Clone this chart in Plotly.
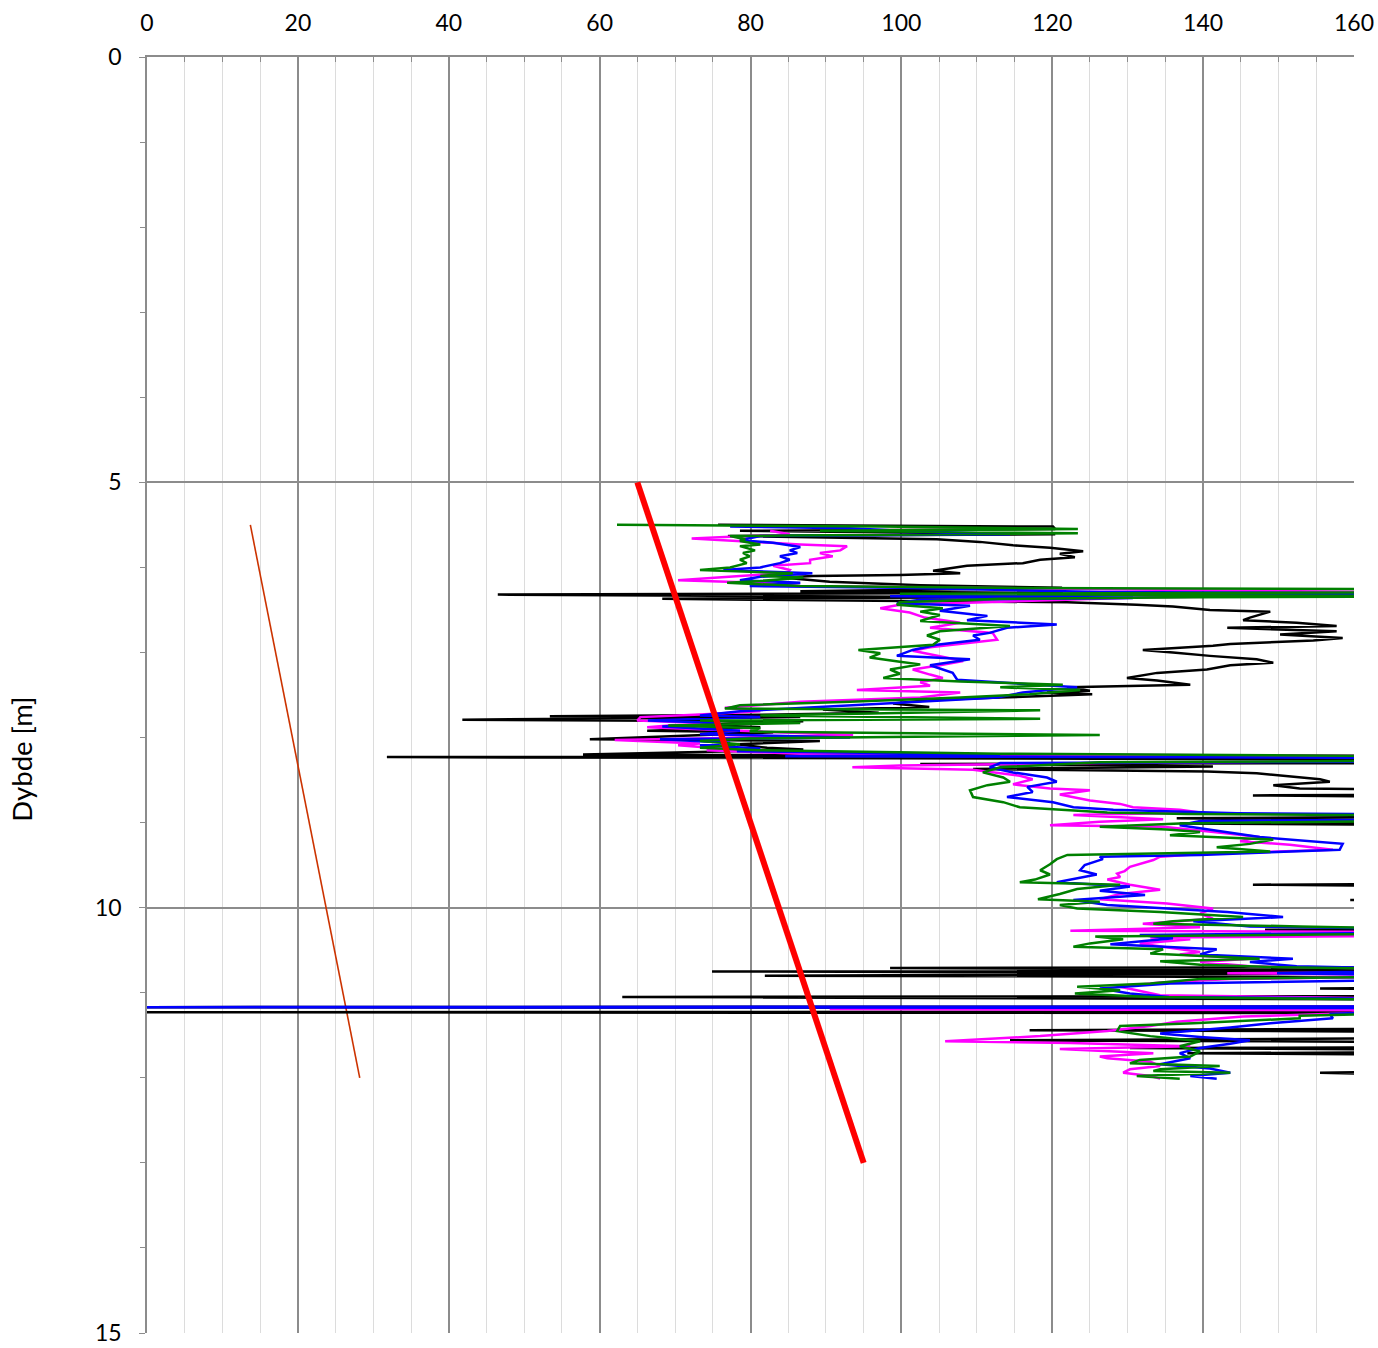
import plotly.graph_objects as go

# Reference lines (value, depth)
red_line_value = [65, 95]
red_line_depth = [5.0, 13.0]
orange_line_value = [13.7, 28.2]
orange_line_depth = [5.5, 12.0]

# Profiles: (depth [m], value); values > 160 run off the right edge
black_profile = [(5.50,75.7),(5.52,120.1),(5.55,120.4),(5.57,78.6),(5.61,120.4),(5.63,77.0),(5.67,104.7),(5.70,110.4),(5.74,114.8),(5.77,119.7),(5.81,124.1),(5.84,121.0),(5.88,123.0),(5.91,118.4),(5.95,116.1),(5.98,108.7),(6.02,105.8),(6.04,104.2),(6.07,107.8),(6.09,99.8),(6.10,88.3),(6.12,84.2),(6.17,90.5),(6.21,102.5),(6.24,121.3),(6.28,86.6),(6.30,121.4),(6.32,46.5),(6.35,113.1),(6.37,68.3),(6.38,80.2),(6.41,122.0),(6.44,131.2),(6.46,136.0),(6.50,140.9),(6.52,148.9),(6.59,146.2),(6.62,145.3),(6.65,152.4),(6.69,157.7),(6.71,143.2),(6.75,157.7),(6.79,150.2),(6.83,158.5),(6.86,154.6),(6.90,143.6),(6.92,141.3),(6.97,132.0),(7.00,136.0),(7.04,140.9),(7.08,147.1),(7.12,149.3),(7.15,143.6),(7.20,140.5),(7.24,133.9),(7.30,129.9),(7.33,133.9),(7.38,138.3),(7.41,122.0),(7.45,125.0),(7.47,119.3),(7.49,125.3),(7.53,113.1),(7.56,103.8),(7.60,98.9),(7.64,103.7),(7.67,89.6),(7.71,97.0),(7.73,83.9),(7.75,53.4),(7.76,86.6),(7.79,41.8),(7.81,87.0),(7.85,73.3),(7.88,81.3),(7.92,66.3),(7.94,83.0),(7.97,73.3),(8.02,58.7),(8.04,89.2),(8.08,78.2),(8.12,82.2),(8.14,87.0),(8.17,73.3),(8.20,57.8),(8.22,175),(8.23,31.8),(8.26,175),(8.30,175),(8.31,102.5),(8.34,141.3),(8.37,109.5),(8.40,140.5),(8.42,147.1),(8.49,155.5),(8.52,156.8),(8.56,149.3),(8.60,152.8),(8.62,175),(8.67,175),(8.68,146.6),(8.70,175),(8.93,175),(8.95,136.5),(8.98,175),(9.01,136.9),(9.03,175),(9.72,175),(9.73,146.6),(9.75,175),(9.90,175),(9.91,159.5),(9.93,175),(10.25,175),(10.26,148.2),(10.28,175),(10.70,175),(10.71,98.5),(10.74,175),(10.75,74.9),(10.77,175),(10.80,81.9),(10.82,175),(10.94,175),(10.95,155.5),(10.97,175),(11.04,175),(11.05,63.0),(11.08,175),(11.16,175),(11.17,0),(11.18,175),(11.22,175),(11.23,0),(11.24,175),(11.42,175),(11.44,117.0),(11.46,175),(11.53,175),(11.56,114.4),(11.58,175),(11.64,175),(11.65,130.3),(11.67,175),(11.70,175),(11.71,137.9),(11.73,175),(11.92,175),(11.94,155.5),(11.98,175)]

blue_profile = [(5.52,77.3),(5.54,93.2),(5.57,99.8),(5.61,114.4),(5.63,81.3),(5.68,78.6),(5.71,83.0),(5.76,86.6),(5.80,85.2),(5.83,86.2),(5.87,83.9),(5.91,85.2),(5.95,83.9),(6.00,81.3),(6.03,76.4),(6.07,88.2),(6.11,81.3),(6.15,78.6),(6.18,86.6),(6.22,79.9),(6.24,99.8),(6.29,126.3),(6.31,175),(6.34,98.5),(6.36,130.7),(6.38,102.5),(6.42,99.4),(6.45,109.1),(6.51,105.1),(6.57,111.4),(6.62,108.7),(6.67,120.6),(6.71,114.0),(6.77,111.7),(6.80,109.5),(6.85,110.4),(6.91,104.7),(6.97,101.5),(7.04,99.4),(7.08,109.1),(7.15,103.8),(7.24,106.8),(7.32,107.4),(7.38,118.8),(7.41,123.3),(7.47,116.1),(7.53,112.7),(7.59,99.8),(7.65,86.6),(7.69,78.6),(7.74,73.3),(7.76,81.3),(7.80,66.4),(7.83,76.0),(7.87,68.3),(7.92,78.6),(7.96,73.3),(8.00,93.2),(8.02,68.0),(8.06,77.3),(8.09,73.3),(8.13,81.3),(8.16,78.2),(8.20,113.1),(8.22,84.6),(8.24,175),(8.28,175),(8.30,113.1),(8.35,111.7),(8.41,114.8),(8.47,119.3),(8.52,120.6),(8.58,116.7),(8.64,117.4),(8.70,114.0),(8.76,120.1),(8.82,122.8),(8.85,128.1),(8.89,144.5),(8.91,175),(8.96,175),(8.98,139.6),(9.03,136.9),(9.09,141.3),(9.17,147.5),(9.25,158.5),(9.32,158.1),(9.38,139.6),(9.40,126.3),(9.43,126.7),(9.50,124.3),(9.56,123.7),(9.61,125.9),(9.70,120.6),(9.75,130.3),(9.80,126.3),(9.85,132.3),(9.91,122.8),(9.97,127.3),(10.05,143.2),(10.11,150.6),(10.16,138.7),(10.22,146.2),(10.26,175),(10.29,175),(10.32,131.6),(10.36,136.0),(10.43,127.7),(10.49,141.8),(10.55,139.6),(10.60,151.9),(10.64,146.2),(10.69,152.4),(10.73,175),(10.77,149.8),(10.80,175),(10.84,175),(10.89,135.6),(10.95,126.3),(11.01,130.3),(11.05,135.5),(11.08,175),(11.16,175),(11.17,0),(11.18,175),(11.25,156.8),(11.30,157.2),(11.36,148.9),(11.41,143.6),(11.48,134.3),(11.52,139.6),(11.56,146.2),(11.60,143.6),(11.65,139.6),(11.71,136.9),(11.77,138.3),(11.84,134.3),(11.89,140.9),(11.94,143.6),(11.98,138.3),(12.01,141.8)]

magenta_profile = [(5.57,82.6),(5.61,85.2),(5.66,72.2),(5.69,78.6),(5.73,86.6),(5.75,92.8),(5.80,91.9),(5.83,89.2),(5.87,90.9),(5.91,87.9),(5.95,87.9),(5.98,83.0),(6.03,85.2),(6.07,84.8),(6.10,78.6),(6.15,70.4),(6.18,81.3),(6.22,86.6),(6.26,133.0),(6.30,175),(6.32,175),(6.35,133.0),(6.39,118.4),(6.44,99.8),(6.48,97.2),(6.53,101.1),(6.59,103.1),(6.65,107.8),(6.71,103.8),(6.77,112.1),(6.85,112.7),(6.89,109.1),(6.94,103.8),(6.98,101.5),(7.04,105.1),(7.10,108.2),(7.15,105.1),(7.20,101.5),(7.26,103.8),(7.30,105.5),(7.35,102.5),(7.39,103.8),(7.44,94.1),(7.47,107.8),(7.53,102.5),(7.58,86.6),(7.61,82.6),(7.65,76.6),(7.69,81.3),(7.73,73.3),(7.76,65.4),(7.80,65.0),(7.83,73.3),(7.88,66.3),(7.93,81.3),(7.97,93.6),(8.01,73.3),(8.03,62.0),(8.07,73.3),(8.09,70.4),(8.13,76.0),(8.15,74.2),(8.19,86.6),(8.22,175),(8.27,175),(8.30,126.3),(8.33,99.8),(8.35,93.5),(8.38,109.5),(8.42,113.1),(8.45,115.7),(8.49,117.4),(8.55,114.8),(8.60,119.7),(8.62,125.0),(8.67,121.0),(8.74,125.0),(8.78,129.0),(8.82,130.7),(8.85,136.9),(8.88,139.6),(8.91,122.8),(8.96,134.7),(8.99,126.3),(9.03,119.7),(9.05,134.7),(9.09,139.6),(9.13,143.6),(9.17,147.5),(9.22,144.9),(9.26,151.5),(9.32,157.2),(9.37,139.6),(9.40,134.3),(9.44,133.4),(9.49,131.6),(9.52,130.3),(9.57,129.6),(9.60,128.6),(9.64,129.0),(9.67,127.3),(9.73,130.3),(9.79,134.3),(9.84,129.0),(9.90,126.3),(9.95,135.2),(10.01,141.3),(10.07,139.6),(10.13,141.3),(10.19,132.0),(10.23,139.6),(10.27,122.4),(10.29,175),(10.33,175),(10.35,133.0),(10.37,138.3),(10.42,131.6),(10.47,135.6),(10.52,139.6),(10.55,136.9),(10.60,146.2),(10.64,139.6),(10.69,146.2),(10.73,175),(10.76,175),(10.77,143.2),(10.80,175),(10.84,143.6),(10.88,134.3),(10.93,129.0),(10.98,131.6),(11.03,134.3),(11.08,175),(11.16,175),(11.19,90.5),(11.21,175),(11.24,159.5),(11.28,145.3),(11.34,136.5),(11.39,133.0),(11.45,127.3),(11.51,118.4),(11.57,105.8),(11.59,122.4),(11.63,138.3),(11.66,121.0),(11.71,133.4),(11.75,126.3),(11.77,127.3),(11.81,133.0),(11.86,134.3),(11.90,130.3),(11.94,129.4),(11.98,133.0),(12.01,134.3)]

green_profile = [(5.50,62.3),(5.52,97.2),(5.55,123.4),(5.57,89.2),(5.60,123.4),(5.63,77.3),(5.67,79.3),(5.69,78.6),(5.73,81.3),(5.75,78.6),(5.80,80.6),(5.83,79.0),(5.87,79.9),(5.91,78.6),(5.95,79.5),(6.00,77.3),(6.03,73.3),(6.07,85.6),(6.10,81.3),(6.12,87.0),(6.16,81.3),(6.18,76.9),(6.22,86.6),(6.24,113.1),(6.26,175),(6.29,175),(6.31,99.8),(6.34,175),(6.35,138.7),(6.37,113.1),(6.41,99.8),(6.44,99.4),(6.48,105.5),(6.52,102.5),(6.56,105.1),(6.63,102.5),(6.69,114.4),(6.75,105.1),(6.80,103.4),(6.85,105.1),(6.91,104.2),(6.94,98.5),(6.97,94.3),(7.01,97.2),(7.06,95.8),(7.11,99.8),(7.14,102.5),(7.20,98.5),(7.25,99.8),(7.30,97.6),(7.34,107.8),(7.38,121.4),(7.41,113.1),(7.44,123.7),(7.49,117.0),(7.53,107.8),(7.58,93.2),(7.62,78.6),(7.66,76.6),(7.68,118.4),(7.71,99.8),(7.74,81.3),(7.78,118.4),(7.80,73.3),(7.83,86.6),(7.86,69.1),(7.89,81.3),(7.93,79.9),(7.97,126.3),(8.01,79.9),(8.04,73.3),(8.08,78.6),(8.12,73.3),(8.15,81.3),(8.19,113.1),(8.22,175),(8.27,175),(8.29,126.3),(8.35,113.1),(8.41,110.8),(8.47,113.5),(8.52,114.4),(8.56,111.4),(8.62,109.1),(8.70,109.5),(8.76,113.5),(8.82,115.7),(8.85,122.0),(8.88,127.3),(8.90,137.9),(8.92,175),(8.97,175),(9.01,136.9),(9.05,126.3),(9.08,135.2),(9.11,139.6),(9.15,135.6),(9.20,149.3),(9.25,146.2),(9.29,141.8),(9.34,148.9),(9.38,122.0),(9.43,120.6),(9.49,119.7),(9.56,118.4),(9.61,119.7),(9.67,117.7),(9.70,115.7),(9.73,129.0),(9.78,123.3),(9.84,121.0),(9.90,118.1),(9.93,126.3),(9.97,121.0),(10.01,123.3),(10.05,134.3),(10.11,145.3),(10.16,136.0),(10.19,133.4),(10.22,152.8),(10.26,175),(10.30,175),(10.34,125.7),(10.37,129.4),(10.42,125.0),(10.46,122.8),(10.49,134.7),(10.54,133.0),(10.60,147.5),(10.63,134.3),(10.67,139.6),(10.70,150.2),(10.73,175),(10.80,175),(10.84,139.6),(10.89,133.0),(10.93,123.3),(10.97,129.0),(11.01,123.0),(11.05,133.0),(11.09,175),(11.23,175),(11.27,152.8),(11.30,152.8),(11.36,138.7),(11.39,129.0),(11.45,128.6),(11.51,133.0),(11.57,139.6),(11.63,136.9),(11.69,139.6),(11.75,138.3),(11.79,131.6),(11.83,130.3),(11.86,142.2),(11.90,134.3),(11.92,133.4),(11.94,143.6),(11.98,131.2),(12.01,136.9)]

x_ticks = [0, 20, 40, 60, 80, 100, 120, 140, 160]
y_ticks = [0, 5, 10, 15]
y_title = "Dybde [m]"

fig = go.Figure()

fig.add_trace(go.Scatter(x=orange_line_value, y=orange_line_depth, mode="lines",
                         line=dict(color="#cc3300", width=1.6), hoverinfo="skip"))

series = [
    (black_profile, "#000000"),
    (magenta_profile, "#ff00ff"),
    (blue_profile, "#0000ff"),
    (green_profile, "#008000"),
]
for prof, col in series:
    d = [p[0] for p in prof]
    v = [p[1] for p in prof]
    fig.add_trace(go.Scatter(x=v, y=d, mode="lines", line=dict(color=col, width=2.5)))

fig.add_trace(go.Scatter(x=red_line_value, y=red_line_depth, mode="lines",
                         line=dict(color="#ff0000", width=6)))

grid_major = "#8c8c8c"
fig.update_layout(
    width=1378, height=1348,
    margin=dict(l=147, r=24, t=57, b=15, autoexpand=False),
    plot_bgcolor="white", paper_bgcolor="white",
    showlegend=False,
    font=dict(family="Lato, 'Open Sans', sans-serif", size=23, color="black"),
)
fig.add_annotation(
    text=y_title, textangle=-90, xref="paper", yref="paper",
    x=-0.1036, y=0.45, xanchor="center", yanchor="middle",
    showarrow=False, font=dict(size=27.5, color="black"),
)
fig.update_xaxes(
    side="top", range=[0, 160], tickmode="array", tickvals=x_ticks,
    ticktext=[str(t) for t in x_ticks],
    showgrid=True, gridcolor=grid_major, gridwidth=1.5,
    ticks="inside", ticklen=6, tickcolor=grid_major,
    showline=True, linecolor=grid_major, linewidth=1.5, zeroline=False,
    ticklabelstandoff=15, ticklabeloverflow="allow",
    minor=dict(dtick=5, tick0=0, showgrid=True, gridcolor="#dcdcdc", gridwidth=1,
               ticks="inside", ticklen=5, tickcolor=grid_major),
)
fig.update_yaxes(
    range=[15, 0], tickmode="array", tickvals=y_ticks,
    ticktext=[str(t) for t in y_ticks],
    showgrid=True, gridcolor=grid_major, gridwidth=1.5,
    ticks="outside", ticklen=6, tickcolor=grid_major,
    showline=True, linecolor=grid_major, linewidth=1.5, zeroline=False,
    ticklabelstandoff=13, ticklabeloverflow="allow",
    minor=dict(dtick=1, tick0=0, showgrid=False, ticks="outside", ticklen=5, tickcolor=grid_major),
)

fig.write_html("out.html", config={"displayModeBar": False},
               post_script="document.body.style.margin='0';document.body.style.overflow='hidden';")
